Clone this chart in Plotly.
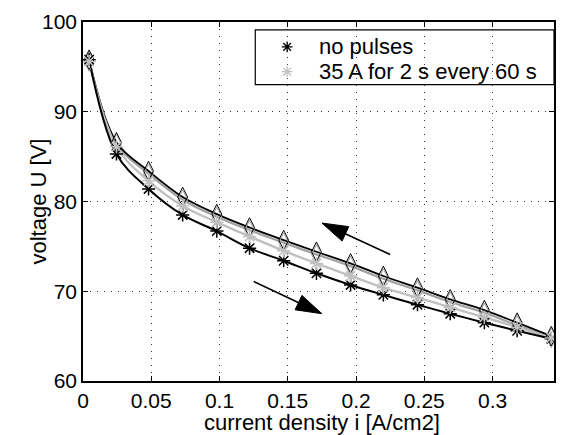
import plotly.graph_objects as go
import math

current = [0.0045, 0.0245, 0.048, 0.073, 0.098, 0.122, 0.147, 0.171, 0.196, 0.220, 0.245, 0.269, 0.294, 0.318, 0.343]
u_nopulse_up = [95.8, 85.3, 81.4, 78.5, 76.7, 74.8, 73.4, 72.0, 70.7, 69.6, 68.5, 67.5, 66.5, 65.6, 64.7]
u_pulse_up = [95.6, 86.1, 82.3, 79.5, 77.7, 76.1, 74.5, 73.1, 71.7, 70.4, 69.3, 68.2, 67.1, 66.0, 64.8]
u_nopulse_down = [95.8, 86.6, 83.4, 80.5, 78.6, 77.1, 75.7, 74.4, 73.1, 71.7, 70.4, 69.1, 67.9, 66.5, 65.0]
u_pulse_down = [95.6, 86.4, 83.1, 80.2, 78.3, 76.8, 75.4, 74.1, 72.8, 71.4, 70.1, 68.8, 67.6, 66.2, 64.8]

x_ticks = [0, 0.05, 0.1, 0.15, 0.2, 0.25, 0.3]
x_ticktext = ["0", "0.05", "0.1", "0.15", "0.2", "0.25", "0.3"]
y_ticks = [60, 70, 80, 90, 100]
legend_labels = ["no pulses", "35 A for 2 s every 60 s"]

# arrows: (tail, tip) in data coordinates
arrows = [((0.225, 74.1), (0.175, 77.6)),
          ((0.125, 71.1), (0.175, 67.5))]

XR = [0, 0.345]
YR = [60, 100]
W, H = 566, 435
ML, MR, MT, MB = 83, 10, 20, 54
PW, PH = W - ML - MR, H - MT - MB

BLACK = "#000000"
GRAY = "#c0c0c0"
MIDGRAY = "#a0a0a0"

fig = go.Figure()

for y, col, w in [(u_pulse_down, MIDGRAY, 2.2), (u_nopulse_down, BLACK, 1.8), (u_pulse_up, GRAY, 2.4), (u_nopulse_up, BLACK, 2.0)]:
    fig.add_trace(go.Scatter(x=current, y=y, mode="lines", line=dict(color=col, width=w, shape="spline", smoothing=1.0),
                             showlegend=False, hoverinfo="skip"))

fig.add_trace(go.Scatter(x=current, y=u_pulse_down, mode="markers", showlegend=False,
                         marker=dict(symbol="diamond-tall-open", size=14, color=MIDGRAY, line=dict(width=1.0, color=MIDGRAY))))
fig.add_trace(go.Scatter(x=current, y=u_nopulse_down, mode="markers", showlegend=False,
                         marker=dict(symbol="diamond-tall-open", size=14, color=BLACK, line=dict(width=1, color=BLACK))))

fig.add_trace(go.Scatter(x=current, y=u_nopulse_up, mode="markers", showlegend=False,
                         marker=dict(symbol="asterisk-open", size=11, color=BLACK, line=dict(width=1.5, color=BLACK))))
fig.add_trace(go.Scatter(x=current, y=u_pulse_up, mode="markers", showlegend=False,
                         marker=dict(symbol="asterisk-open", size=11, color=GRAY, line=dict(width=1.5, color=GRAY))))


def to_px(x, y):
    return (x - XR[0]) / (XR[1] - XR[0]) * PW, (y - YR[0]) / (YR[1] - YR[0]) * PH


def to_data(px, py):
    return XR[0] + px / PW * (XR[1] - XR[0]), YR[0] + py / PH * (YR[1] - YR[0])


HEAD_L, HEAD_HW = 26, 8
for tail, tip in arrows:
    tx, ty = to_px(*tail)
    hx, hy = to_px(*tip)
    dx, dy = hx - tx, hy - ty
    n = math.hypot(dx, dy)
    dx, dy = dx / n, dy / n
    bx, by = hx - HEAD_L * dx, hy - HEAD_L * dy
    c1 = to_data(bx - HEAD_HW * dy, by + HEAD_HW * dx)
    c2 = to_data(bx + HEAD_HW * dy, by - HEAD_HW * dx)
    base = to_data(bx + 2 * dx, by + 2 * dy)
    fig.add_shape(type="line", x0=tail[0], y0=tail[1], x1=base[0], y1=base[1], xref="x", yref="y",
                  line=dict(color=BLACK, width=1.6))
    fig.add_shape(type="path", xref="x", yref="y",
                  path=f"M {tip[0]} {tip[1]} L {c1[0]} {c1[1]} L {c2[0]} {c2[1]} Z",
                  fillcolor=BLACK, line=dict(color=BLACK, width=1))

# legend drawn manually (MATLAB-style box)
def px_to_paper(px, py):
    return (px - ML) / PW, 1 - (py - MT) / PH

lx0, ly_top = px_to_paper(256, 28)
lx1, ly_bot = px_to_paper(556, 83)
fig.add_shape(type="rect", xref="paper", yref="paper", x0=lx0, x1=lx1, y0=ly_bot, y1=ly_top,
              fillcolor="white", line=dict(color=BLACK, width=1.2), layer="between")
mx, _ = px_to_paper(288, 0)
tx_, _ = px_to_paper(318, 0)
rows = [px_to_paper(0, 45)[1], px_to_paper(0, 70)[1]]
for label, col, ry in zip(legend_labels, [BLACK, GRAY], rows):
    fig.add_trace(go.Scatter(x=[mx], y=[ry], xaxis="x2", yaxis="y2", mode="markers", showlegend=False,
                             hoverinfo="skip", cliponaxis=False,
                             marker=dict(symbol="asterisk-open", size=9, color=col, line=dict(width=1.3, color=col))))
    fig.add_annotation(text=label, xref="paper", yref="paper", x=tx_, y=ry, xanchor="left", yanchor="middle",
                       showarrow=False, font=dict(size=22, color=BLACK))

axis_common = dict(showline=True, linecolor=BLACK, linewidth=1.5, mirror="ticks", ticks="inside", ticklen=5,
                   tickcolor=BLACK, showgrid=True, gridcolor="#333333", griddash="1px,6px", gridwidth=1,
                   zeroline=False, tickfont=dict(size=21, color=BLACK))

fig.update_xaxes(range=XR, tickvals=x_ticks, ticktext=x_ticktext, **axis_common)
fig.update_yaxes(range=YR, tickvals=y_ticks, **axis_common)

fig.add_annotation(text="current density i [A/cm2]", xref="paper", yref="paper", x=0.5, y=0,
                   xanchor="center", yanchor="middle", xshift=3, yshift=-41, showarrow=False,
                   font=dict(size=22, color=BLACK))
fig.add_annotation(text="voltage U [V]", xref="paper", yref="paper", x=0, y=0.5, textangle=-90,
                   xanchor="center", yanchor="middle", xshift=-45, showarrow=False,
                   font=dict(size=22, color=BLACK))

fig.update_layout(
    width=W, height=H,
    margin=dict(l=ML, r=MR, t=MT, b=MB),
    paper_bgcolor="white", plot_bgcolor="white",
    font=dict(family="Liberation Sans, Arial, sans-serif", color=BLACK),
    showlegend=False,
    xaxis2=dict(overlaying="x", range=[0, 1], visible=False, fixedrange=True),
    yaxis2=dict(overlaying="y", range=[0, 1], visible=False, fixedrange=True),
)

fig.write_html("out.html")
